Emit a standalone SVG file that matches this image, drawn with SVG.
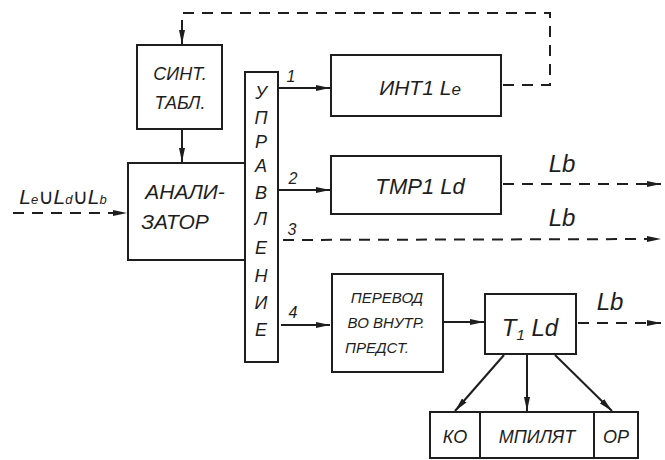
<svg xmlns="http://www.w3.org/2000/svg" width="665" height="460" viewBox="0 0 665 460">
<style>
.box{fill:none;stroke:#1e1e1e;stroke-width:2}
.ln{fill:none;stroke:#1e1e1e;stroke-width:2}
.ds{fill:none;stroke:#1e1e1e;stroke-width:2;stroke-dasharray:11 8}
.t{font-family:"Liberation Sans","DejaVu Sans",sans-serif;font-style:italic;fill:#1e1e1e;text-anchor:middle}
</style>
<defs>
<marker id="ah" viewBox="0 0 14 8" refX="14" refY="4" markerWidth="14" markerHeight="8" markerUnits="userSpaceOnUse" orient="auto">
<path d="M0,1 L14,4 L0,7 Z" fill="#1e1e1e"/>
</marker>
</defs>
<rect width="665" height="460" fill="#fff"/>

<g id="connectors">
<polyline class="ds" points="503,85 550,85 550,13 182,13 182,44" marker-end="url(#ah)"/>
<line class="ln" x1="182" y1="130" x2="182" y2="162" marker-end="url(#ah)"/>
<line class="ds" x1="13" y1="213" x2="127" y2="213" marker-end="url(#ah)"/>
<line class="ln" x1="279" y1="88" x2="330" y2="88" marker-end="url(#ah)"/>
<line class="ln" x1="279" y1="190" x2="330" y2="190" marker-end="url(#ah)"/>
<line class="ds" x1="283" y1="240" x2="661" y2="239" marker-end="url(#ah)"/>
<line class="ln" x1="281" y1="325" x2="330" y2="325" marker-end="url(#ah)"/>
<line class="ds" x1="503" y1="184" x2="661" y2="184" marker-end="url(#ah)"/>
<line class="ln" x1="444" y1="322" x2="484" y2="322" marker-end="url(#ah)"/>
<line class="ds" x1="578" y1="323" x2="661" y2="323" marker-end="url(#ah)"/>
<line class="ln" x1="504" y1="355" x2="455" y2="411" marker-end="url(#ah)"/>
<line class="ln" x1="527" y1="355" x2="527" y2="411" marker-end="url(#ah)"/>
<line class="ln" x1="555" y1="355" x2="612" y2="411" marker-end="url(#ah)"/>
<text class="t" x="291" y="82" font-size="16">1</text>
<text class="t" x="293" y="184" font-size="16">2</text>
<text class="t" x="292" y="235" font-size="16">3</text>
<text class="t" x="293" y="318" font-size="16">4</text>
<text class="t" x="63" y="204" font-size="21">L<tspan font-size="13">e</tspan>∪L<tspan font-size="13">d</tspan>∪L<tspan font-size="13">b</tspan></text>
<text class="t" x="562" y="172" font-size="24">Lb</text>
<text class="t" x="562" y="226" font-size="24">Lb</text>
<text class="t" x="610" y="310" font-size="24">Lb</text>
</g>

<g id="sint">
<rect class="box" x="137" y="45" width="85" height="84"/>
<text class="t" x="180" y="80" font-size="18">СИНТ.</text>
<text class="t" x="180" y="109" font-size="18">ТАБЛ.</text>
</g>

<g id="analizator">
<polyline class="box" points="244,163 128,163 128,260 245,260"/>
<text class="t" x="185" y="199" font-size="21">АНАЛИ-</text>
<text class="t" x="175" y="229" font-size="21">ЗАТОР</text>
</g>

<g id="upravlenie">
<rect class="box" x="245" y="72" width="33" height="290"/>
<g class="t" font-size="18">
<text x="261" y="99">У</text>
<text x="261" y="124">П</text>
<text x="261" y="148">Р</text>
<text x="261" y="172">А</text>
<text x="261" y="199">В</text>
<text x="261" y="225">Л</text>
<text x="261" y="254">Е</text>
<text x="261" y="282">Н</text>
<text x="261" y="309">И</text>
<text x="261" y="336">Е</text>
</g>
</g>

<g id="int1">
<rect class="box" x="331" y="55" width="170" height="61"/>
<text class="t" x="420" y="95" font-size="21">ИНТ1 L<tspan font-size="17">e</tspan></text>
</g>

<g id="tmr1">
<rect class="box" x="331" y="156" width="170" height="58"/>
<text class="t" x="420" y="194" font-size="22">ТМР1 Ld</text>
</g>

<g id="perevod">
<rect class="box" x="332" y="274" width="111" height="98"/>
<text class="t" x="387" y="303" font-size="15">ПЕРЕВОД</text>
<text class="t" x="386" y="328" font-size="15">ВО ВНУТР.</text>
<text class="t" x="377" y="353" font-size="15">ПРЕДСТ.</text>
</g>

<g id="t1ld">
<rect class="box" x="485" y="294" width="91" height="60"/>
<text class="t" x="530" y="336" font-size="24">T<tspan font-size="15" dy="4">1</tspan><tspan dy="-4"> Ld</tspan></text>
</g>

<g id="kompilyator">
<rect class="box" x="430" y="412" width="208" height="46"/>
<line class="ln" x1="480" y1="412" x2="480" y2="458"/>
<line class="ln" x1="594" y1="412" x2="594" y2="458"/>
<text class="t" x="455" y="443" font-size="18">КО</text>
<text class="t" x="537" y="443" font-size="18">МПИЛЯТ</text>
<text class="t" x="616" y="443" font-size="18">ОР</text>
</g>
</svg>
